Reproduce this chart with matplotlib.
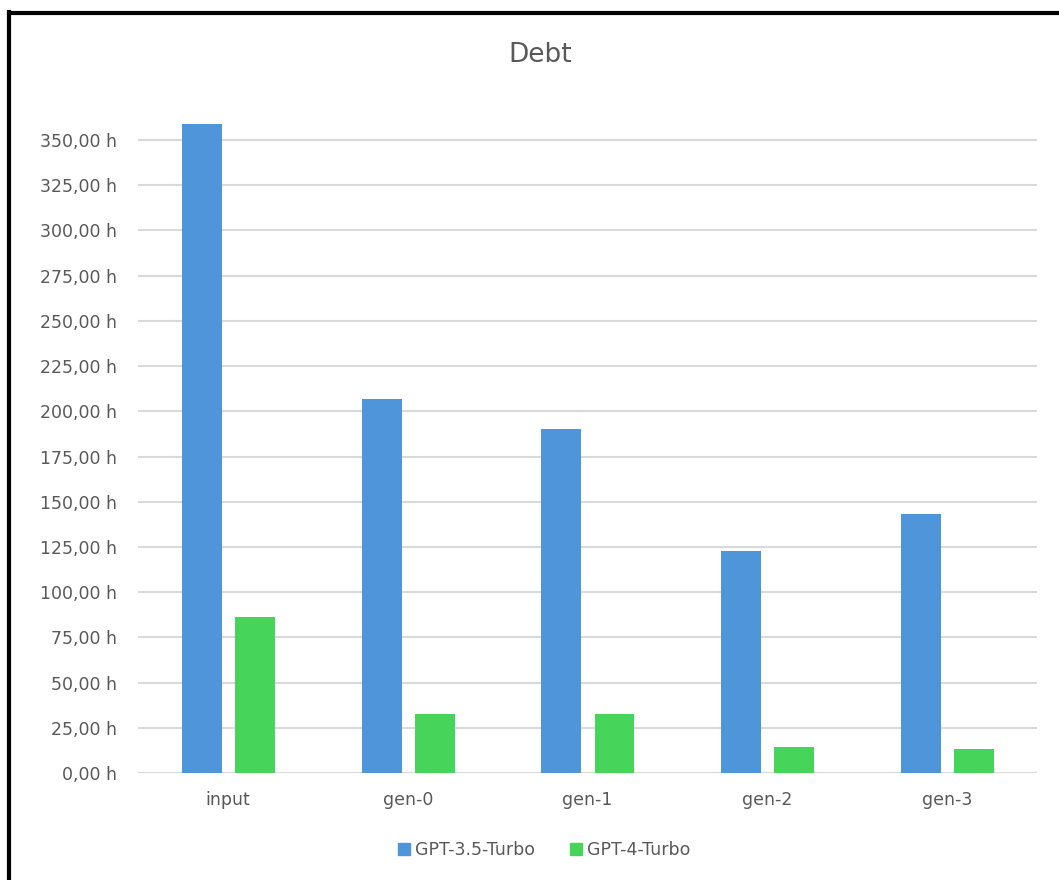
import matplotlib
matplotlib.use("Agg")
import matplotlib.pyplot as plt
from matplotlib.lines import Line2D
import numpy as np

categories = ["input", "gen-0", "gen-1", "gen-2", "gen-3"]
gpt35 = [359, 207, 190, 122.5, 143]
gpt4 = [86.5, 32.6, 32.6, 14.2, 13.1]
yticks = [0, 25, 50, 75, 100, 125, 150, 175, 200, 225, 250, 275, 300, 325, 350]
ytick_labels = [f"{v:.2f}".replace(".", ",") + " h" for v in yticks]

blue = "#4F95DA"
green = "#46D45A"
text_c = "#595959"
grid_c = "#D9D9D9"

plt.rcParams['font.family'] = ['DejaVu Sans']

fig = plt.figure(figsize=(10.59, 8.80), dpi=100)
ax = fig.add_axes([138/1059, 1-773/880, (1037-138)/1059, (773-94.8)/880])

x = np.arange(len(categories)) + 0.5
w = 0.222
ax.bar(x - 0.145, gpt35, width=w, color=blue, label="GPT-3.5-Turbo", zorder=3, clip_on=False)
ax.bar(x + 0.150, gpt4, width=w, color=green, label="GPT-4-Turbo", zorder=3, clip_on=False)

ax.set_xlim(0, len(categories))
ax.set_ylim(0, 375)
ax.set_yticks(yticks)
ax.set_yticklabels(ytick_labels)
ax.set_xticks(x)
ax.set_xticklabels(categories)
for s in ax.spines.values():
    s.set_visible(False)
ax.tick_params(axis='y', length=0, pad=15, labelsize=12.5, labelcolor=text_c)
ax.tick_params(axis='x', length=0, pad=13, labelsize=12.5, labelcolor=text_c)
ax.yaxis.grid(True, color=grid_c, linewidth=1.5, zorder=0)
ax.set_axisbelow(True)

fig.text(540/1059, 1-55/880, "Debt", ha='center', va='center', fontsize=19, color=text_c)

handles = [plt.Rectangle((0, 0), 1, 1, color=blue), plt.Rectangle((0, 0), 1, 1, color=green)]
fig.legend(handles, ["GPT-3.5-Turbo", "GPT-4-Turbo"], loc='center', bbox_to_anchor=(544/1059, 1-850/880),
           ncol=2, frameon=False, fontsize=12.5, labelcolor=text_c, handlelength=0.7, handleheight=0.7,
           handletextpad=0.3, columnspacing=2.0)

# black border (left and top)
fig.add_artist(Line2D([9/1059, 9/1059], [0, 1-12/880], color='black', linewidth=3, transform=fig.transFigure))
fig.add_artist(Line2D([9/1059, 1], [1-13/880, 1-13/880], color='black', linewidth=3, transform=fig.transFigure))

fig.savefig("out.png", dpi=100, facecolor='white')
